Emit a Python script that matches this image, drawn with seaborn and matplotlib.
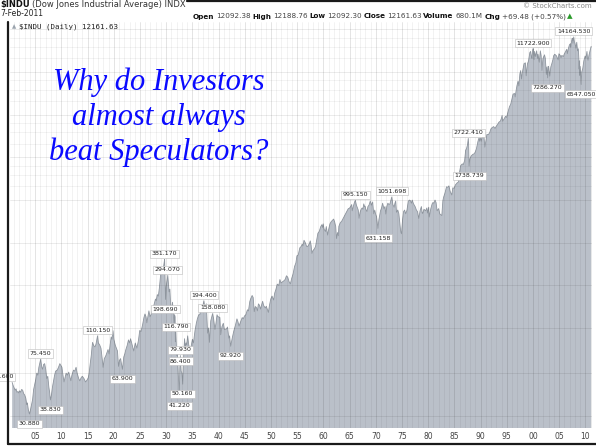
import matplotlib
matplotlib.use("Agg")
import matplotlib.pyplot as plt
import pandas as pd
import seaborn as sns

# Dow Jones Industrial Average, long term, per decade
yrs_1900 = [1900.6, 1900.8, 1901.0, 1901.2, 1901.35, 1901.5, 1901.7, 1901.85, 1902.0, 1902.2,
            1902.4, 1902.6, 1902.8, 1903.0, 1903.2, 1903.4, 1903.5, 1903.7, 1903.9, 1904.1,
            1904.3, 1904.5, 1904.7, 1904.9, 1905.1, 1905.3, 1905.5, 1905.7, 1905.85, 1906.05,
            1906.25, 1906.4, 1906.6, 1906.8, 1907.0, 1907.2, 1907.4, 1907.6, 1907.75, 1907.9,
            1908.1, 1908.3, 1908.5, 1908.7, 1908.9, 1909.2, 1909.45, 1909.7, 1909.9]
dji_1900 = [51.6, 49, 47, 45.5, 46.5, 44, 44.5, 43.5, 45, 44,
            46, 45.5, 43, 42, 40, 36, 37, 33, 30.88, 33,
            36, 39, 46, 50, 54, 60, 58, 66, 70, 75.45,
            66, 64, 69, 70, 64, 55, 57, 48, 44, 38.83,
            42, 48, 53, 58, 62, 63, 66, 70, 68]

yrs_1910 = [1910.1, 1910.3, 1910.5, 1910.7, 1910.9, 1911.1, 1911.4, 1911.6, 1911.8, 1912.0,
            1912.3, 1912.55, 1912.8, 1913.0, 1913.3, 1913.5, 1913.8, 1914.0, 1914.3, 1914.6,
            1914.95, 1915.15, 1915.3, 1915.5, 1915.7, 1915.85, 1915.95, 1916.15, 1916.4, 1916.6,
            1916.9, 1917.05, 1917.3, 1917.55, 1917.8, 1917.95, 1918.2, 1918.5, 1918.7, 1918.9,
            1919.1, 1919.3, 1919.5, 1919.65, 1919.85]
dji_1910 = [66, 58, 52, 56, 60, 58, 61, 57, 53, 58,
            63, 62, 66, 60, 55, 53, 56, 57, 55, 52,
            54, 56, 60, 70, 80, 92, 99, 94, 92, 96,
            110.15, 98, 95, 90, 75, 66, 76, 80, 84, 88,
            82, 95, 108, 104, 119.6]

yrs_1920 = [1920.0, 1920.3, 1920.5, 1920.7, 1920.9, 1921.1, 1921.3, 1921.45, 1921.65, 1921.9,
            1922.1, 1922.3, 1922.55, 1922.8, 1923.0, 1923.2, 1923.5, 1923.8, 1924.1, 1924.4,
            1924.7, 1924.95, 1925.2, 1925.5, 1925.75, 1925.95, 1926.15, 1926.3, 1926.5, 1926.7,
            1926.9, 1927.1, 1927.3, 1927.55, 1927.8, 1927.95, 1928.1, 1928.3, 1928.5, 1928.7,
            1928.95, 1929.1, 1929.3, 1929.45, 1929.6, 1929.7, 1929.8, 1929.87]
dji_1920 = [104, 94, 90, 86, 67, 74, 76, 70, 63.9, 78,
            82, 88, 94, 103, 98, 105, 95, 86, 98, 90,
            102, 120, 118, 132, 148, 157, 150, 136, 150, 165,
            150, 155, 163, 175, 190, 200, 195, 215, 210, 240,
            300, 310, 300, 330, 360, 381.17, 260, 198.69]

yrs_1930 = [1930.0, 1930.15, 1930.3, 1930.45, 1930.55, 1930.7, 1930.9, 1931.05, 1931.2, 1931.35,
            1931.5, 1931.6, 1931.7, 1931.75, 1931.85, 1932.0, 1932.15, 1932.3, 1932.5, 1932.6,
            1932.7, 1932.85, 1933.0, 1933.15, 1933.3, 1933.5, 1933.65, 1933.8, 1933.9, 1934.1,
            1934.3, 1934.6, 1934.8, 1935.0, 1935.2, 1935.5, 1935.75, 1935.95, 1936.2, 1936.4,
            1936.6, 1936.8, 1937.0, 1937.2, 1937.35, 1937.5, 1937.65, 1937.8, 1937.9, 1938.1,
            1938.25, 1938.5, 1938.7, 1938.85, 1939.05, 1939.3, 1939.5, 1939.7, 1939.85]
dji_1930 = [245, 270, 294.07, 250, 225, 235, 165, 175, 190, 160,
            130, 155, 150, 100, 116.79, 80, 85, 60, 41.22, 65,
            79.93, 62, 60, 50.16, 75, 105, 92, 98, 95, 110,
            95, 86, 95, 104, 98, 120, 135, 145, 155, 155,
            165, 180, 180, 194.4, 175, 165, 185, 140, 115, 125,
            99, 140, 150, 158.08, 145, 122, 135, 155, 150]

yrs_1940 = [1940.0, 1940.25, 1940.4, 1940.65, 1940.9, 1941.1, 1941.5, 1941.7, 1941.95, 1942.1,
            1942.3, 1942.6, 1942.9, 1943.2, 1943.5, 1943.7, 1943.9, 1944.2, 1944.5, 1944.7,
            1944.95, 1945.2, 1945.5, 1945.7, 1945.95, 1946.1, 1946.4, 1946.6, 1946.8, 1947.0,
            1947.2, 1947.4, 1947.6, 1947.8, 1948.0, 1948.4, 1948.6, 1948.9, 1949.1, 1949.5,
            1949.7, 1949.95]
dji_1940 = [150, 148, 112, 128, 135, 122, 123, 127, 106, 110,
            92.92, 106, 119, 130, 145, 138, 129, 138, 148, 145,
            152, 155, 168, 165, 192, 200, 212, 205, 163, 177,
            175, 165, 185, 181, 170, 193, 180, 173, 178, 161,
            180, 200]

yrs_1950 = [1950.2, 1950.5, 1950.7, 1950.95, 1951.2, 1951.5, 1951.7, 1951.9, 1952.2, 1952.5,
            1952.7, 1952.95, 1953.2, 1953.45, 1953.7, 1953.95, 1954.2, 1954.5, 1954.75, 1954.95,
            1955.2, 1955.5, 1955.75, 1955.95, 1956.1, 1956.3, 1956.55, 1956.8, 1957.0, 1957.3,
            1957.5, 1957.65, 1957.8, 1958.0, 1958.25, 1958.5, 1958.75, 1958.95, 1959.2, 1959.5,
            1959.7, 1959.85, 1959.95]
dji_1950 = [210, 197, 220, 235, 255, 250, 275, 260, 265, 270,
            275, 292, 285, 265, 256, 280, 300, 340, 360, 404,
            410, 460, 470, 488, 475, 520, 500, 470, 470, 490,
            515, 480, 420, 440, 450, 470, 530, 583, 600, 650,
            670, 640, 679]

yrs_1960 = [1960.15, 1960.4, 1960.55, 1960.8, 1961.0, 1961.25, 1961.5, 1961.75, 1961.95, 1962.15,
            1962.35, 1962.5, 1962.7, 1962.85, 1962.95, 1963.2, 1963.5, 1963.75, 1963.95, 1964.2,
            1964.5, 1964.75, 1964.95, 1965.2, 1965.4, 1965.5, 1965.7, 1965.95, 1966.1, 1966.3,
            1966.5, 1966.65, 1966.8, 1967.0, 1967.2, 1967.4, 1967.55, 1967.7, 1967.85, 1967.95,
            1968.1, 1968.3, 1968.5, 1968.7, 1968.95, 1969.15, 1969.4, 1969.6, 1969.8, 1969.95]
dji_1960 = [620, 600, 650, 566, 620, 680, 705, 720, 734, 700,
            650, 535, 590, 560, 652, 690, 710, 740, 762, 800,
            840, 870, 874, 900, 930, 840, 900, 969, 995.15, 920,
            880, 850, 744, 820, 860, 880, 860, 940, 900, 905,
            860, 830, 900, 920, 985, 920, 970, 800, 850, 800]

yrs_1970 = [1970.15, 1970.4, 1970.6, 1970.9, 1971.1, 1971.3, 1971.55, 1971.75, 1971.9, 1972.1,
            1972.3, 1972.5, 1972.7, 1972.95, 1973.05, 1973.25, 1973.5, 1973.65, 1973.8, 1973.95,
            1974.2, 1974.4, 1974.6, 1974.75, 1974.9, 1975.1, 1975.3, 1975.5, 1975.7, 1975.95,
            1976.2, 1976.4, 1976.6, 1976.8, 1976.95, 1977.2, 1977.5, 1977.75, 1977.95, 1978.2,
            1978.45, 1978.7, 1978.85, 1978.95, 1979.2, 1979.5, 1979.75, 1979.85, 1979.95]
dji_1970 = [760, 631.16, 730, 840, 880, 950, 870, 900, 797, 900,
            950, 930, 940, 1020, 1051.7, 930, 890, 950, 985, 820,
            850, 800, 680, 600, 577.6, 720, 830, 850, 800, 850,
            980, 1000, 990, 950, 1000, 940, 900, 850, 830, 742,
            840, 900, 810, 805, 860, 840, 880, 810, 840]

yrs_1980 = [1980.1, 1980.2, 1980.5, 1980.75, 1980.9, 1981.1, 1981.3, 1981.5, 1981.7, 1982.0,
            1982.2, 1982.6, 1982.8, 1982.95, 1983.2, 1983.5, 1983.75, 1983.95, 1984.2, 1984.5,
            1984.7, 1984.95, 1985.2, 1985.5, 1985.75, 1985.95, 1986.2, 1986.5, 1986.7, 1986.95,
            1987.15, 1987.3, 1987.5, 1987.65, 1987.72, 1987.8, 1987.95, 1988.2, 1988.5, 1988.75,
            1988.95, 1989.2, 1989.5, 1989.7, 1989.8, 1989.95]
dji_1980 = [890, 759, 870, 940, 960, 950, 1000, 960, 840, 870,
            800, 777, 990, 1050, 1120, 1240, 1230, 1260, 1150, 1086,
            1220, 1210, 1280, 1320, 1340, 1550, 1750, 1800, 1780, 1900,
            2250, 2300, 2450, 2722.41, 2500, 1738.74, 1950, 2050, 2100, 2120,
            2170, 2300, 2600, 2750, 2600, 2750]

yrs_1990 = [1990.1, 1990.5, 1990.65, 1990.8, 1991.0, 1991.2, 1991.5, 1991.75, 1991.95, 1992.2,
            1992.5, 1992.75, 1992.95, 1993.2, 1993.5, 1993.75, 1993.95, 1994.1, 1994.2, 1994.5,
            1994.75, 1994.95, 1995.2, 1995.5, 1995.75, 1995.95, 1996.2, 1996.5, 1996.6, 1996.8,
            1996.95, 1997.15, 1997.3, 1997.5, 1997.65, 1997.8, 1997.95, 1998.3, 1998.55, 1998.7,
            1998.85, 1998.95, 1999.15, 1999.4, 1999.55, 1999.7, 1999.8, 1999.95]
dji_1990 = [2600, 2999, 2800, 2365, 2600, 2900, 2900, 3000, 3170, 3250,
            3300, 3200, 3300, 3400, 3550, 3600, 3750, 3950, 3600, 3750,
            3900, 3830, 4150, 4550, 4750, 5120, 5600, 5650, 5350, 6000,
            6450, 6900, 6400, 7800, 8200, 7160, 7900, 9200, 9300, 7540,
            8600, 9180, 9600, 11000, 11200, 10300, 10000, 11400]

yrs_2000 = [2000.03, 2000.2, 2000.3, 2000.45, 2000.7, 2000.85, 2000.95, 2001.2, 2001.4, 2001.55,
            2001.7, 2001.9, 2002.2, 2002.35, 2002.55, 2002.65, 2002.8, 2002.9, 2003.0, 2003.2,
            2003.4, 2003.6, 2003.8, 2003.95, 2004.15, 2004.5, 2004.8, 2004.95, 2005.2, 2005.35,
            2005.5, 2005.8, 2005.95, 2006.3, 2006.45, 2006.55, 2006.75, 2006.95, 2007.15, 2007.2,
            2007.4, 2007.5, 2007.62, 2007.77, 2007.9, 2008.0, 2008.2, 2008.35, 2008.5, 2008.65,
            2008.75, 2008.8, 2008.85, 2008.9, 2008.95, 2009.05, 2009.19, 2009.3, 2009.5, 2009.7,
            2009.95]
dji_2000 = [11722.9, 9800, 11200, 10300, 11300, 10000, 10700, 9400, 11300, 10500,
            8235, 10000, 10600, 10000, 7700, 8700, 7286.27, 8800, 8600, 7500,
            8700, 9200, 9800, 10450, 10700, 10400, 9750, 10780, 10500, 10100,
            10500, 10300, 10700, 11300, 11600, 10800, 11700, 12460, 12700, 12000,
            13500, 13900, 12800, 14164.53, 13100, 12800, 11800, 13000, 11300, 11700,
            10000, 8400, 9600, 7600, 8800, 8000, 6547.05, 8000, 8500, 9600,
            10400]

yrs_2010 = [2010.1, 2010.3, 2010.4, 2010.5, 2010.7, 2010.95, 2011.1]
dji_2010 = [10000, 11200, 10000, 9700, 10600, 11600, 12161.63]

# annotated turning points
label_text = ["51.600", "30.880", "75.450", "38.830", "110.150", "63.900", "381.170",
              "294.070", "198.690", "116.790", "79.930", "86.400", "50.160", "41.220",
              "194.400", "158.080", "92.920", "995.150", "1051.698", "631.158",
              "2722.410", "1738.739", "11722.900", "7286.270", "14164.530", "6547.050"]
label_year = [1900.6, 1903.9, 1906.05, 1907.9, 1916.9, 1921.65, 1929.7,
              1930.3, 1929.87, 1931.85, 1932.7, 1932.8, 1933.15, 1932.5,
              1937.2, 1938.85, 1942.3, 1966.1, 1973.05, 1970.4,
              1987.65, 1987.8, 2000.03, 2002.8, 2007.77, 2009.19]
label_value = [51.6, 30.88, 75.45, 38.83, 110.15, 63.9, 381.17,
               294.07, 198.69, 116.79, 79.93, 66.4, 50.16, 41.22,
               194.4, 158.08, 92.92, 995.15, 1051.7, 631.16,
               2722.41, 1738.74, 11722.9, 7286.27, 14164.53, 6547.05]
label_high = [True, False, True, False, True, False, True,
              True, False, True, True, True, False, False,
              True, True, False, True, True, False,
              True, False, True, False, True, False]

tick_years = list(range(1905, 2011, 5))
tick_labels = [f"{y % 100:02d}" for y in tick_years]
grid_major = [30, 60, 125, 250, 500, 1000, 2000, 4000, 8000, 16000]
grid_minor = [1250, 1500, 1750, 2500, 3000, 3500, 5000, 6000, 7000, 10000, 12000, 14000]

years = (yrs_1900 + yrs_1910 + yrs_1920 + yrs_1930 + yrs_1940 + yrs_1950 + yrs_1960
         + yrs_1970 + yrs_1980 + yrs_1990 + yrs_2000 + yrs_2010)
closes = (dji_1900 + dji_1910 + dji_1920 + dji_1930 + dji_1940 + dji_1950 + dji_1960
          + dji_1970 + dji_1980 + dji_1990 + dji_2000 + dji_2010)
df = pd.DataFrame({"year": years, "close": closes})

W, H = 596, 447
sns.set_theme(style="white")
plt.rcParams['font.family'] = ['DejaVu Sans']

fig = plt.figure(figsize=(W / 100, H / 100), dpi=100)
ax = fig.add_axes([10 / W, 1 - 428 / H, 582 / W, 406 / H])
ax.set_yscale('log')
ax.set_xlim(1900.19, 2011.26)
ax.set_ylim(24.6, 18070)

ax.fill_between(df["year"], df["close"], 1, color='#bac0c9', lw=0, zorder=1)
sns.lineplot(data=df, x="year", y="close", ax=ax, color='#8f969f', lw=0.6, zorder=2)

# grid on top of the mountain
for yr in range(1901, 2012):
    a = 0.17 if yr % 5 == 0 else 0.08
    ax.axvline(yr, color='k', alpha=a, lw=0.5, zorder=3)
for lv in grid_major:
    ax.axhline(lv, color='k', alpha=0.12, lw=0.5, zorder=3)
for lv in grid_minor:
    ax.axhline(lv, color='k', alpha=0.07, lw=0.5, zorder=3)

ax.set_xticks(tick_years, tick_labels)
ax.set_yticks([])
ax.set_yticks([], minor=True)
ax.tick_params(axis='x', length=0, labelsize=5.5, labelcolor='#444444', pad=3)
ax.set_xlabel("")
ax.set_ylabel("")
for s in ax.spines.values():
    s.set_visible(False)

for txt, yr, val, hi in zip(label_text, label_year, label_value, label_high):
    dy = 4.0 if hi else -7.0
    dx = -6.5 if txt == "51.600" else 0.0
    ax.annotate(txt, xy=(yr, val), xytext=(dx, dy), textcoords='offset points',
                ha='center', va='center', fontsize=4.5, color='#222222', zorder=5,
                bbox=dict(boxstyle='square,pad=0.25', fc='white', ec='#bbbbbb', lw=0.4),
                annotation_clip=False)

# title text on the slide
for line, yb in zip(["Why do Investors", "almost always", "beat Speculators?"], [90, 125, 160]):
    fig.text(159 / W, 1 - yb / H, line, ha='center', va='baseline', fontsize=22,
             family='Liberation Serif', style='italic', color='#0a0aff')


# header rows
def chain(x, y, parts, size, gap=1.5):
    t = fig.text(x, y, parts[0][0], fontsize=size, fontweight=parts[0][1],
                 color=parts[0][2], va='bottom')
    for txt, w, c in parts[1:]:
        t = ax.annotate(txt, xy=(1, 0), xycoords=t, xytext=(gap, 0), textcoords='offset points',
                        fontsize=size, fontweight=w, color=c, va='bottom', ha='left')
    return t


chain(0 / W, 1 - 9 / H, [("$INDU", 'bold', '#111111'),
                         ("(Dow Jones Industrial Average) INDX", 'normal', '#333333')], 6)
fig.text(592 / W, 1 - 5.5 / H, "© StockCharts.com", ha='right', va='center', fontsize=5,
         color='#888888')
fig.text(0, 1 - 14 / H, "7-Feb-2011", ha='left', va='center', fontsize=5.5, color='#222222')
chain(193 / W, 1 - 19.5 / H, [("Open", 'bold', '#111111'), ("12092.38", 'normal', '#444444'),
                               ("High", 'bold', '#111111'), ("12188.76", 'normal', '#444444'),
                               ("Low", 'bold', '#111111'), ("12092.30", 'normal', '#444444'),
                               ("Close", 'bold', '#111111'), ("12161.63", 'normal', '#444444'),
                               ("Volume", 'bold', '#111111'), ("680.1M", 'normal', '#444444'),
                               ("Chg", 'bold', '#111111'), ("+69.48 (+0.57%)", 'normal', '#444444'),
                               ("▲", 'normal', '#2a9a2a')], 5.25, gap=1.2)
fig.text(12 / W, 1 - 27 / H, "▲", ha='left', va='center', fontsize=4, color='#9aa3ad')
fig.text(19 / W, 1 - 27 / H, "$INDU (Daily) 12161.63", ha='left', va='center', fontsize=5.4,
         family='DejaVu Sans Mono', color='#222222')

# slide frame
fig.add_artist(plt.Line2D([8 / W, 8 / W], [1 - 22 / H, 1 - 444 / H], color='k', lw=1.6,
                          transform=fig.transFigure))
fig.add_artist(plt.Line2D([8 / W, 1], [1 - 444 / H, 1 - 444 / H], color='k', lw=1.6,
                          transform=fig.transFigure))
fig.add_artist(plt.Line2D([187 / W, 1], [1 - 1 / H, 1 - 1 / H], color='k', lw=1.6,
                          transform=fig.transFigure))

fig.savefig("out.png", dpi=100)
